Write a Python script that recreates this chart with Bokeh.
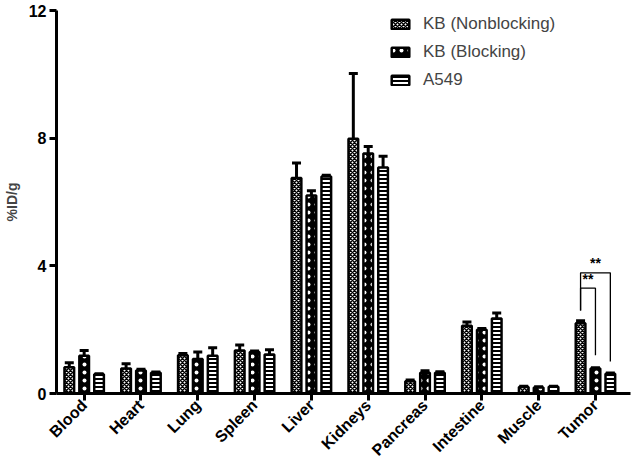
import math
from bokeh.plotting import figure
from bokeh.models import (ColumnDataSource, Range1d, FixedTicker, Whisker, TeeHead,
                          Legend, LegendItem)
from bokeh.core.properties import value
from bokeh.embed import file_html
from bokeh.resources import INLINE

# ---- data ----
organs = ["Blood", "Heart", "Lung", "Spleen", "Liver", "Kidneys",
          "Pancreas", "Intestine", "Muscle", "Tumor"]
series_names = ["KB (Nonblocking)", "KB (Blocking)", "A549"]
nonblocking = [0.82, 0.78, 1.20, 1.35, 6.75, 7.98, 0.38, 2.12, 0.20, 2.20]
nonblocking_err = [0.14, 0.15, 0.05, 0.17, 0.47, 2.05, 0.04, 0.12, 0.03, 0.08]
blocking = [1.18, 0.72, 1.08, 1.30, 6.20, 7.52, 0.65, 2.00, 0.19, 0.78]
blocking_err = [0.17, 0.04, 0.22, 0.03, 0.15, 0.22, 0.06, 0.04, 0.02, 0.03]
a549 = [0.60, 0.65, 1.18, 1.22, 6.80, 7.08, 0.65, 2.35, 0.21, 0.62]
a549_err = [0.02, 0.02, 0.25, 0.15, 0.04, 0.35, 0.03, 0.17, 0.02, 0.02]
y_ticks = [0, 4, 8, 12]
sig_pairs = [(0, 1, 3.30, "**"), (0, 2, 3.78, "**")]
sig_left_bottom = 2.60
sig_right_bottom = [1.20, 1.00]

FONT = "Liberation Sans"
offsets = [-0.262, 0.0, 0.262]
bar_w = 0.17

p = figure(width=632, height=467, output_backend="svg", toolbar_location=None,
           x_range=Range1d(-0.487, 9.617), y_range=Range1d(0, 12),
           min_border_left=49, min_border_right=2, min_border_top=10,
           min_border_bottom=60)
p.outline_line_color = None
p.xgrid.visible = False
p.ygrid.visible = False
p.background_fill_color = "white"

idx = list(range(len(organs)))
vals = [nonblocking, blocking, a549]
errs = [nonblocking_err, blocking_err, a549_err]
styles = [
    dict(fill_color="white", hatch_color="black", hatch_pattern="diagonal_cross", hatch_scale=4, hatch_weight=1.5),
    dict(fill_color="black", hatch_color="white", hatch_pattern="dot", hatch_scale=8, hatch_weight=5),
    dict(fill_color="white", hatch_color="black", hatch_pattern="horizontal_line", hatch_scale=4, hatch_weight=2),
]

renderers = []
for k in range(3):
    xs = [i + offsets[k] for i in idx]
    src = ColumnDataSource(dict(x=xs, top=vals[k],
                                up=[v + e for v, e in zip(vals[k], errs[k])]))
    r = p.vbar(x="x", top="top", bottom=0, width=bar_w, source=src, line_color="black",
               line_width=2.5, **styles[k])
    renderers.append(r)
    w = Whisker(base="x", lower="top", upper="up", source=src, line_width=3,
                line_color="black",
                upper_head=TeeHead(size=9, line_width=3, line_color="black"),
                lower_head=None)
    p.add_layout(w)

ti = organs.index("Tumor")
bx, by, sx, sy, st = [], [], [], [], []
for (a, b, h, lab), rb in zip(sig_pairs, sig_right_bottom):
    xa = ti + offsets[a]
    xb = ti + offsets[b]
    bx.append([xa, xa, xb, xb])
    by.append([sig_left_bottom, h, h, rb])
    sx.append((xa + xb) / 2)
    sy.append(h + 0.05)
    st.append(lab)
p.multi_line(xs=bx, ys=by, line_color="black", line_width=1.3)
p.text(x=sx, y=sy, text=st, text_align="center", text_baseline="bottom",
       text_font=value(FONT), text_font_size="14px", text_font_style="bold",
       text_color="black")

for ax in (p.xaxis[0], p.yaxis[0]):
    ax.axis_line_width = 3
    ax.axis_line_color = "black"
    ax.major_tick_line_width = 3
    ax.major_tick_line_color = "black"
    ax.major_tick_out = 7
    ax.major_tick_in = 0
    ax.minor_tick_line_color = None
    ax.major_label_text_font = FONT
    ax.major_label_text_font_style = "bold"
    ax.major_label_text_font_size = "16px"
    ax.major_label_text_color = "black"

p.yaxis.ticker = FixedTicker(ticks=y_ticks)
p.yaxis.major_label_standoff = 3
p.yaxis.axis_label = "%ID/g"
p.yaxis.axis_label_text_font = FONT
p.yaxis.axis_label_text_font_style = "bold"
p.yaxis.axis_label_text_font_size = "14px"
p.yaxis.axis_label_standoff = 6

p.xaxis.ticker = FixedTicker(ticks=idx)
p.xaxis.major_label_overrides = {i: n for i, n in zip(idx, organs)}
p.xaxis.major_label_orientation = math.pi / 4
p.xaxis.major_label_standoff = 2

legend = Legend(items=[LegendItem(label=n, renderers=[r]) for n, r in zip(series_names, renderers)],
                location=(333, 303), glyph_width=22, glyph_height=12,
                label_text_font=FONT, label_text_font_size="17px",
                label_standoff=12, spacing=8, padding=0, margin=0,
                border_line_color=None, background_fill_alpha=0)
p.add_layout(legend)

open("out.html", "w").write(file_html(p, INLINE))
